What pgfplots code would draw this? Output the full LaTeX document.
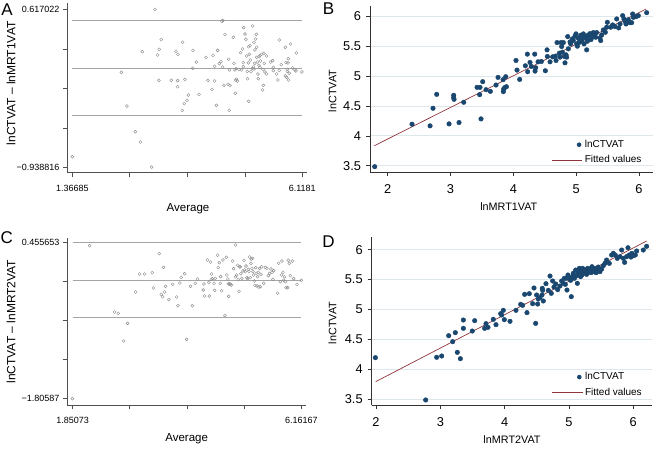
\documentclass[border=0pt]{standalone}
\usepackage{fontspec}
\setmainfont{Liberation Sans}
\usepackage{pgfplots}
\pgfplotsset{compat=1.18}
\definecolor{stnavy}{RGB}{26,71,111}
\definecolor{stmaroon}{RGB}{144,53,59}
\definecolor{gridc}{RGB}{222,231,236}
\definecolor{lagray}{RGB}{165,165,165}
\definecolor{mkgray}{RGB}{140,140,140}
\definecolor{axgray}{RGB}{80,80,80}
\newcommand{\fsTick}{\fontsize{9}{10}\selectfont}
\newcommand{\fsTickB}{\fontsize{12.8}{15}\selectfont}
\newcommand{\fsLab}{\fontsize{11.5}{13}\selectfont}
\newcommand{\fsLabB}{\fontsize{10.8}{12}\selectfont}
\newcommand{\fsLet}{\fontsize{17}{19}\selectfont}
\pgfplotsset{
  ba/.style={
    scale only axis, anchor=south west,
    axis lines=left, axis line style={-,axgray,line width=0.6pt},
    tick align=outside, major tick length=4pt, tick style={axgray,line width=0.6pt},
    tick label style={font=\fsTick},
    xticklabel style={yshift=-5pt},
    /pgf/number format/assume math mode=true,
    clip=false,
  },
  fit/.style={
    scale only axis, anchor=south west,
    axis lines=left, axis line style={-,black!80,line width=0.6pt},
    tick align=outside, major tick length=4pt, tick style={black!80,line width=0.6pt},
    tick label style={font=\fsTickB},
    xticklabel style={yshift=-5pt},
    yticklabel style={xshift=-1.5pt},
    /pgf/number format/assume math mode=true,
    ymajorgrids, major grid style={gridc,line width=0.8pt},
    xtick={2,3,4,5,6}, ytick={3.5,4,4.5,5,5.5,6},
    legend cell align=left,
    legend style={draw=none, fill=none, inner sep=0pt, font=\fontsize{10}{11}\selectfont, row sep=2.5pt},
  },
}
\begin{document}
\begin{tikzpicture}
\useasboundingbox (0,0) rectangle (656pt,448pt);
% ---------- A ----------
\begin{axis}[ba, at={(67pt,275.3pt)}, width=240pt, height=169.4pt,
  xmin=1.2574, xmax=6.2152, ymin=-0.9913, ymax=0.676,
  xtick={1.36685,2.55466,3.74247,4.93029,6.1181}, xticklabels={1.36685,,,,6.1181},
  ytick={-0.938816,-0.54986,-0.16090,0.22806,0.617022}, yticklabels={−0.938816,,,,0.617022}]
\addplot[lagray, line width=0.8pt] coordinates {(1.36685,0.505) (6.1181,0.505)};
\addplot[lagray, line width=0.8pt] coordinates {(1.36685,0.036) (6.1181,0.036)};
\addplot[lagray, line width=0.8pt] coordinates {(1.36685,-0.427) (6.1181,-0.427)};
\addplot[only marks, mark=o, mark size=1.5pt, mkgray, mark options={line width=0.4pt}] coordinates {
(1.367,-0.834) (2.379,-0.003) (2.496,-0.335) (2.668,-0.588) (2.772,-0.689) (2.813,0.200) (3.006,-0.936) (3.075,0.617) (3.130,0.167) (3.157,-0.082) (3.164,0.223) (3.205,0.318) (3.412,-0.082) (3.508,0.203) (3.543,-0.085) (3.543,-0.145) (3.550,0.174) (3.639,-0.378) (3.646,0.292) (3.680,-0.312) (3.694,-0.072) (3.736,-0.279) (3.763,-0.227) (3.853,0.036) (3.860,0.213) (3.928,0.098) (3.984,-0.220) (4.128,0.144) (4.169,-0.082) (4.252,-0.174) (4.273,0.164) (4.307,-0.089) (4.307,0.056) (4.342,-0.328) (4.369,0.213) (4.404,0.082) (4.438,0.102) (4.459,0.499) (4.472,0.049) (4.479,0.509) (4.500,-0.131) (4.521,0.368) (4.583,-0.122) (4.596,0.125) (4.610,-0.378) (4.624,-0.131) (4.610,0.020) (4.693,0.341) (4.707,0.085) (4.727,0.020) (4.734,-0.210) (4.741,-0.079) (4.762,-0.072) (4.810,0.026) (4.844,0.190) (4.865,0.020) (4.886,0.226) (4.899,0.092) (4.906,0.437) (4.899,0.052) (4.934,0.374) (4.954,0.322) (4.968,0.158) (4.982,0.006) (4.989,-0.066) (5.003,0.089) (5.010,0.249) (5.010,-0.289) (5.023,0.174) (5.037,0.259) (5.044,0.118) (5.058,0.003) (5.085,0.036) (5.092,0.453) (5.106,0.049) (5.120,0.289) (5.134,0.085) (5.140,0.217) (5.154,0.325) (5.168,0.371) (5.175,0.243) (5.175,0.144) (5.189,0.098) (5.202,-0.020) (5.209,-0.066) (5.223,0.066) (5.230,0.151) (5.244,0.046) (5.257,0.108) (5.278,0.174) (5.299,-0.177) (5.306,0.026) (5.312,-0.131) (5.326,0.184) (5.333,0.085) (5.347,0.000) (5.381,-0.020) (5.381,0.158) (5.464,0.098) (5.505,0.112) (5.519,0.046) (5.519,0.013) (5.588,-0.020) (5.615,-0.079) (5.643,0.315) (5.643,0.016) (5.684,0.072) (5.767,0.243) (5.767,-0.039) (5.781,0.092) (5.794,-0.053) (5.808,0.026) (5.808,0.006) (5.829,0.131) (5.836,-0.079) (5.850,-0.013) (5.877,0.276) (5.919,0.039) (5.967,0.020) (5.994,0.187) (5.987,0.010) (6.111,0.000) (5.822,0.089) (5.244,0.164) (5.120,0.029) (4.775,-0.089) (4.748,0.033)
};
\end{axis}
% ---------- B ----------
\begin{axis}[fit, at={(370pt,275.7pt)}, width=282.7pt, height=166.6pt,
  xmin=1.718, xmax=6.218, ymin=3.389, ymax=6.178,
  legend style={at={(0.641,0.205)}, anchor=north west}]
\addplot[only marks, mark=*, mark size=2.3pt, stnavy,
  legend image code/.code={\path[draw=none,fill=none] (0pt,0pt) -- (30.7pt,0pt); \fill[stnavy,draw=none] (27.3pt,0pt) circle (2.3pt);}] coordinates {
(1.793,3.483) (2.387,4.194) (2.674,4.167) (2.721,4.461) (2.780,4.694) (2.976,4.200) (3.050,4.678) (3.050,4.639) (3.056,4.611) (3.135,4.222) (3.210,4.561) (3.422,4.811) (3.469,4.811) (3.464,4.689) (3.485,4.283) (3.512,4.906) (3.565,4.772) (3.634,4.744) (3.724,4.850) (3.756,4.978) (3.836,4.939) (3.841,4.739) (3.846,4.783) (3.862,4.806) (3.878,4.989) (3.889,4.822) (4.042,5.261) (4.058,5.100) (4.101,4.944) (4.191,5.172) (4.223,5.367) (4.228,5.072) (4.265,5.228) (4.286,5.161) (4.340,5.367) (4.345,5.083) (4.355,5.139) (4.393,5.239) (4.446,5.244) (4.509,5.089) (4.536,5.439) (4.541,5.328) (4.584,5.239) (4.626,5.322) (4.668,5.333) (4.679,5.261) (4.695,5.561) (4.732,5.383) (4.743,5.317) (4.759,5.561) (4.769,5.494) (4.780,5.400) (4.796,5.561) (4.812,5.328) (4.822,5.222) (4.838,5.356) (4.849,5.317) (4.865,5.661) (4.875,5.456) (4.902,5.572) (4.912,5.539) (4.939,5.622) (4.955,5.594) (4.981,5.667) (4.997,5.706) (5.008,5.539) (5.019,5.500) (5.034,5.633) (5.045,5.561) (5.061,5.606) (5.072,5.683) (5.088,5.583) (5.098,5.639) (5.114,5.706) (5.125,5.539) (5.141,5.639) (5.151,5.661) (5.167,5.439) (5.178,5.583) (5.194,5.689) (5.210,5.633) (5.220,5.711) (5.236,5.611) (5.257,5.661) (5.273,5.728) (5.289,5.694) (5.310,5.650) (5.326,5.728) (5.379,5.639) (5.390,5.594) (5.406,5.689) (5.432,5.772) (5.464,5.733) (5.485,5.817) (5.496,5.900) (5.549,5.817) (5.581,5.856) (5.618,5.828) (5.645,5.956) (5.676,5.806) (5.698,5.872) (5.740,6.011) (5.761,5.956) (5.777,5.917) (5.793,5.872) (5.804,5.906) (5.830,5.944) (5.857,5.894) (5.883,5.894) (5.899,6.039) (5.910,5.983) (5.952,5.994) (5.989,6.011) (6.122,6.061)
};
\addlegendentry{lnCTVAT}
\addplot[stmaroon, line width=0.7pt,
  legend image code/.code={\draw[stmaroon,line width=0.7pt] (0pt,0pt) -- (30.7pt,0pt);}] coordinates {(1.786,3.833) (6.113,6.123)};
\addlegendentry{Fitted values}
\end{axis}
% ---------- C ----------
\begin{axis}[ba, at={(67pt,43pt)}, width=239.3pt, height=166.7pt,
  xmin=1.7452, xmax=6.256, ymin=-1.897, ymax=0.5135,
  xtick={1.85073,2.92847,4.0062,5.08394,6.16167}, xticklabels={1.85073,,,,6.16167},
  ytick={-1.80587,-1.24124,-0.67561,-0.10998,0.455653}, yticklabels={−1.80587,,,,0.455653}]
\addplot[lagray, line width=0.8pt] coordinates {(1.85073,0.455653) (6.16167,0.455653)};
\addplot[lagray, line width=0.8pt] coordinates {(1.85073,-0.0895) (6.16167,-0.0895)};
\addplot[lagray, line width=0.8pt] coordinates {(1.85073,-0.630) (6.16167,-0.630)};
\addplot[only marks, mark=o, mark size=1.5pt, mkgray, mark options={line width=0.4pt}] coordinates {
(1.845,-1.806) (2.171,0.407) (2.643,-0.553) (2.712,-0.572) (2.812,-0.972) (2.888,-0.717) (3.038,-0.263) (3.114,-0.003) (3.208,-0.003) (3.353,0.017) (3.372,-0.205) (3.485,0.292) (3.522,-0.297) (3.547,-0.331) (3.566,0.094) (3.585,-0.263) (3.604,-0.181) (3.667,-0.374) (3.736,-0.152) (3.811,-0.336) (3.837,-0.461) (3.874,-0.133) (3.899,-0.051) (3.962,0.002) (4.000,-0.948) (4.075,-0.181) (4.107,-0.461) (4.163,-0.138) (4.207,-0.075) (4.314,-0.234) (4.327,-0.147) (4.339,-0.321) (4.390,0.200) (4.421,-0.123) (4.427,-0.321) (4.452,0.171) (4.465,-0.080) (4.471,-0.003) (4.490,-0.070) (4.515,-0.138) (4.528,-0.239) (4.540,-0.065) (4.584,0.268) (4.597,0.089) (4.616,0.161) (4.635,-0.138) (4.641,-0.041) (4.660,-0.244) (4.685,0.200) (4.723,-0.606) (4.748,0.239) (4.760,-0.017) (4.779,-0.075) (4.785,-0.147) (4.792,-0.326) (4.811,-0.143) (4.823,-0.152) (4.842,-0.162) (4.867,0.185) (4.886,0.075) (4.924,0.417) (4.924,-0.041) (4.943,-0.017) (4.961,0.123) (4.974,-0.080) (4.987,-0.254) (4.999,0.099) (5.012,0.103) (5.024,0.002) (5.043,-0.065) (5.062,0.041) (5.081,0.195) (5.093,0.055) (5.106,0.031) (5.119,0.113) (5.137,-0.056) (5.150,-0.070) (5.163,0.065) (5.175,0.031) (5.188,0.243) (5.200,-0.056) (5.213,0.152) (5.219,0.214) (5.232,0.079) (5.244,0.224) (5.250,0.031) (5.263,-0.017) (5.276,-0.104) (5.288,-0.167) (5.301,0.089) (5.313,0.007) (5.326,-0.176) (5.339,-0.041) (5.351,0.021) (5.364,-0.191) (5.376,0.079) (5.389,-0.186) (5.401,-0.007) (5.414,0.103) (5.452,-0.138) (5.483,0.094) (5.514,0.079) (5.540,-0.027) (5.565,0.007) (5.590,0.070) (5.609,0.021) (5.627,-0.080) (5.640,0.046) (5.715,-0.282) (5.734,0.152) (5.766,-0.114) (5.785,-0.017) (5.797,0.185) (5.816,0.021) (5.829,-0.094) (5.841,-0.046) (5.860,-0.114) (5.873,-0.200) (5.904,-0.200) (5.917,0.195) (5.935,0.152) (5.954,-0.027) (5.992,0.185) (6.017,-0.070) (6.080,-0.152) (6.162,-0.094)
};
\end{axis}
% ---------- D ----------
\begin{axis}[fit, at={(371.7pt,43pt)}, width=280pt, height=168.3pt,
  xmin=1.933, xmax=6.286, ymin=3.405, ymax=6.217,
  legend style={at={(0.642,0.205)}, anchor=north west}]
\addplot[only marks, mark=*, mark size=2.3pt, stnavy,
  legend image code/.code={\path[draw=none,fill=none] (0pt,0pt) -- (30.7pt,0pt); \fill[stnavy,draw=none] (27.3pt,0pt) circle (2.3pt);}] coordinates {
(1.990,4.196) (2.772,3.489) (2.943,4.202) (3.021,4.224) (3.130,4.563) (3.192,4.463) (3.233,4.614) (3.264,4.285) (3.311,4.179) (3.358,4.825) (3.358,4.686) (3.497,4.641) (3.534,4.814) (3.689,4.686) (3.710,4.764) (3.741,4.703) (3.824,4.836) (3.865,4.747) (3.938,4.931) (3.953,4.909) (3.979,4.987) (3.995,4.831) (4.083,4.803) (4.176,4.987) (4.249,5.087) (4.280,5.070) (4.311,5.254) (4.347,4.948) (4.383,5.265) (4.435,5.098) (4.456,5.360) (4.482,4.769) (4.497,5.243) (4.513,5.092) (4.523,5.176) (4.549,5.198) (4.580,5.243) (4.585,5.354) (4.591,5.321) (4.601,5.143) (4.642,5.432) (4.679,5.321) (4.705,5.560) (4.725,5.271) (4.746,5.477) (4.767,5.376) (4.793,5.427) (4.824,5.332) (4.860,5.393) (4.886,5.477) (4.912,5.438) (4.927,5.521) (4.943,5.421) (4.959,5.521) (4.969,5.326) (4.984,5.577) (5.005,5.521) (5.026,5.488) (5.036,5.215) (5.052,5.549) (5.067,5.605) (5.083,5.521) (5.104,5.660) (5.119,5.566) (5.130,5.438) (5.140,5.633) (5.150,5.588) (5.161,5.688) (5.171,5.616) (5.181,5.549) (5.192,5.644) (5.202,5.577) (5.212,5.688) (5.223,5.605) (5.238,5.621) (5.254,5.660) (5.275,5.588) (5.290,5.688) (5.306,5.633) (5.326,5.677) (5.342,5.616) (5.358,5.716) (5.378,5.633) (5.399,5.688) (5.420,5.616) (5.430,5.660) (5.456,5.710) (5.482,5.633) (5.508,5.677) (5.534,5.733) (5.560,5.772) (5.585,5.827) (5.627,5.772) (5.663,5.911) (5.689,5.939) (5.720,5.911) (5.751,5.855) (5.793,5.883) (5.819,5.994) (5.845,5.855) (5.865,5.788) (5.896,5.883) (5.917,6.033) (5.938,5.911) (5.964,5.877) (5.979,5.939) (6.000,5.900) (6.031,5.911) (6.052,5.978) (6.155,5.994) (6.207,6.056)
};
\addlegendentry{lnCTVAT}
\addplot[stmaroon, line width=0.7pt,
  legend image code/.code={\draw[stmaroon,line width=0.7pt] (0pt,0pt) -- (30.7pt,0pt);}] coordinates {(1.995,3.795) (6.207,6.145)};
\addlegendentry{Fitted values}
\end{axis}
% ---------- labels ----------
\node[font=\fsLab] at (188pt,239.7pt) {Average};
\node[font=\fsLab] at (186.7pt,9.7pt) {Average};
\node[font=\fontsize{12}{13}\selectfont, rotate=90] at (11pt,364.7pt) {lnCTVAT – lnMRT1VAT};
\node[font=\fontsize{12}{13}\selectfont, rotate=90] at (11pt,126.3pt) {lnCTVAT – lnMRT2VAT};
\node[font=\fsLabB] at (508.8pt,241.3pt) {lnMRT1VAT};
\node[font=\fsLabB] at (512pt,8.7pt) {lnMRT2VAT};
\node[font=\fsLabB, rotate=90] at (332.5pt,357pt) {lnCTVAT};
\node[font=\fsLabB, rotate=90] at (332.5pt,125pt) {lnCTVAT};
\node[font=\fsLet] at (7pt,438.3pt) {A};
\node[font=\fsLet] at (328.5pt,439pt) {B};
\node[font=\fsLet] at (6.7pt,210.5pt) {C};
\node[font=\fsLet] at (328.5pt,206pt) {D};
\end{tikzpicture}
\end{document}
